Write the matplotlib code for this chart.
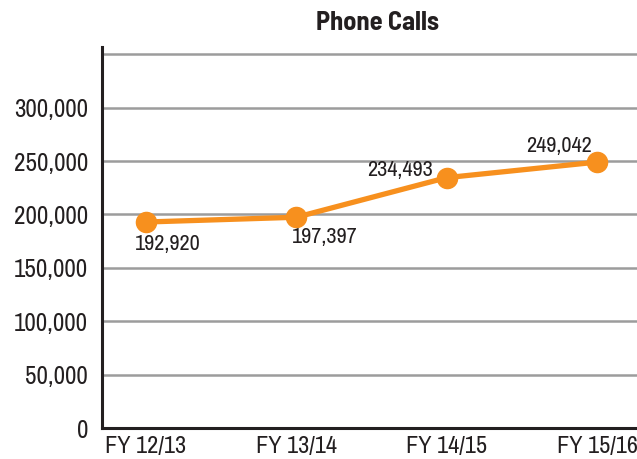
import matplotlib
matplotlib.use('Agg')
import matplotlib.pyplot as plt

# data
years = ['FY 12/13', 'FY 13/14', 'FY 14/15', 'FY 15/16']
calls = [192920, 197397, 234493, 249042]

plt.rcParams['font.family'] = ['Archivo Narrow', 'Liberation Sans Narrow', 'DejaVu Sans']

fig = plt.figure(figsize=(6.37, 4.59), dpi=100)
ax = fig.add_axes([0.160, 0.0675, 0.84, 0.8305])

x = list(range(len(years)))
ax.plot(x, calls, '-o', color='#F7901E', lw=3.8, ms=14.5, zorder=3, clip_on=False)

# label offsets (pixels) for each point
offs = [(22, -22), (28, -20), (-47, 8), (-38, 16)]
for xi, v, (dx, dy) in zip(x, calls, offs):
    ax.annotate(f'{v:,}', (xi, v), xytext=(dx, dy), textcoords='offset pixels',
                ha='center', va='center', fontsize=16, color='#231F20')

ax.set_xlim(-0.293, 3.266)
ax.set_ylim(0, 357000)
ax.set_yticks(range(0, 350001, 50000))
ax.set_yticklabels([f'{v:,}' for v in range(0, 350001, 50000)])
ax.get_yticklabels()[-1].set_visible(False)
ax.set_xticks(x)
ax.set_xticklabels(years)
ax.tick_params(axis='both', length=0, labelsize=18, colors='#231F20')
ax.tick_params(axis='x', labelsize=17.5, pad=6)
ax.tick_params(axis='y', pad=10)

ax.grid(axis='y', color='#9C9C9C', lw=1.8)
ax.set_axisbelow(True)
for s in ['top', 'right']:
    ax.spines[s].set_visible(False)
for s in ['left', 'bottom']:
    ax.spines[s].set_color('#231F20')
    ax.spines[s].set_linewidth(2.2)

fig.text(0.593, 0.95, 'Phone Calls', ha='center', va='center',
         fontsize=19, fontweight='bold', color='#231F20',
         family=['Barlow Semi Condensed', 'Liberation Sans Narrow', 'DejaVu Sans'])

fig.savefig('out.png', dpi=100)
